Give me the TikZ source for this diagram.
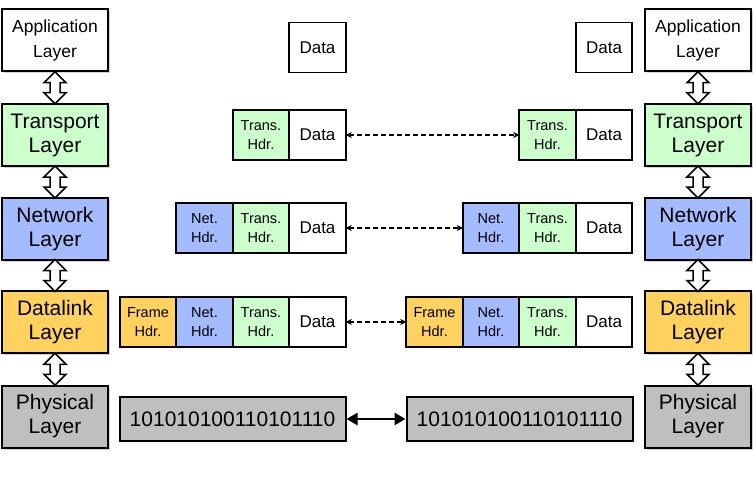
\documentclass[tikz,border=0pt]{standalone}
\usepackage{fontspec}
\setmainfont{Liberation Sans}
\usetikzlibrary{arrows.meta,positioning,calc,shadows}
\definecolor{transgreen}{HTML}{CCFFCC}
\definecolor{netblue}{HTML}{A4BCFF}
\definecolor{linkorange}{HTML}{FFD260}
\definecolor{physgray}{HTML}{BFBFBF}
% hollow up/down arrow between two stacked layers
\newcommand{\hollowlink}[2]{%
  \path (#1.south) -- coordinate[midway] (hl) (#2.north);
  \draw[hollow] ($(hl)+(0,-16)$) -- ++(11,11) -- ++(-6,0) -- ++(0,10) -- ++(6,0) -- ++(-11,11)
    -- ++(-11,-11) -- ++(6,0) -- ++(0,-10) -- ++(-6,0) -- cycle;}

\begin{document}
\begin{tikzpicture}[x=1pt, y=-1pt, node distance=0pt,
  layer/.style={draw, fill=white, line width=2pt, minimum width=106pt, minimum height=62pt, align=center,
    font=\fontsize{21}{24}\selectfont, drop shadow={shadow xshift=2pt, shadow yshift=-2pt, opacity=0.35}},
  cell/.style={draw, fill=white, line width=1.8pt, minimum width=56.5pt, minimum height=50pt, align=center,
    outer sep=0pt, font=\fontsize{14.5}{19}\selectfont},
  datacell/.style={cell, font=\fontsize{17}{19}\selectfont},
  bits/.style={draw, fill=physgray, line width=2pt, minimum width=226pt, minimum height=44pt,
    font=\fontsize{21}{24}\selectfont},
  hollow/.style={draw, fill=white, line width=1.5pt, line join=miter},
  peer/.style={{Stealth[length=6pt,width=6pt]}-{Stealth[length=6pt,width=6pt]}, dash pattern=on 5pt off 3pt, line width=1.3pt},
  wire/.style={{Triangle[length=11pt,width=12pt]}-{Triangle[length=11pt,width=12pt]}, line width=2.8pt}]
\useasboundingbox (0,0) rectangle (753,487);

% sender stack
\node[layer, font=\fontsize{17.5}{25}\selectfont] (lapp) at (55,40.5) {Application\\Layer};
\node[layer, fill=transgreen] (ltrans) at (55,135) {Transport\\Layer};
\node[layer, fill=netblue] (lnet) at (55,229) {Network\\Layer};
\node[layer, fill=linkorange] (llink) at (55,322) {Datalink\\Layer};
\node[layer, fill=physgray] (lphys) at (55,416.5) {Physical\\Layer};

% receiver stack
\node[layer, font=\fontsize{17.5}{25}\selectfont] (rapp) at (698,40.5) {Application\\Layer};
\node[layer, fill=transgreen] (rtrans) at (698,135) {Transport\\Layer};
\node[layer, fill=netblue] (rnet) at (698,229) {Network\\Layer};
\node[layer, fill=linkorange] (rlink) at (698,322) {Datalink\\Layer};
\node[layer, fill=physgray] (rphys) at (698,416.5) {Physical\\Layer};

\hollowlink{lapp}{ltrans}
\hollowlink{ltrans}{lnet}
\hollowlink{lnet}{llink}
\hollowlink{llink}{lphys}
\hollowlink{rapp}{rtrans}
\hollowlink{rtrans}{rnet}
\hollowlink{rnet}{rlink}
\hollowlink{rlink}{rphys}

% packets, sender side
\node[datacell] (ld1) at (317.5,47.5) {Data};
\node[datacell] (ld2) at (317.5,135) {Data};
\node[cell, fill=transgreen, left=of ld2] (lt2) {Trans.\\Hdr.};
\node[datacell] (ld3) at (317.5,228) {Data};
\node[cell, fill=transgreen, left=of ld3] (lt3) {Trans.\\Hdr.};
\node[cell, fill=netblue, left=of lt3] (ln3) {Net.\\Hdr.};
\node[datacell] (ld4) at (317.5,322) {Data};
\node[cell, fill=transgreen, left=of ld4] (lt4) {Trans.\\Hdr.};
\node[cell, fill=netblue, left=of lt4] (ln4) {Net.\\Hdr.};
\node[cell, fill=linkorange, left=of ln4] (lf4) {Frame\\Hdr.};
\node[bits] (lbits) at (232.5,419) {101010100110101110};

% packets, receiver side
\node[datacell] (rd1) at (604,47.5) {Data};
\node[datacell] (rd2) at (604,135) {Data};
\node[cell, fill=transgreen, left=of rd2] (rt2) {Trans.\\Hdr.};
\node[datacell] (rd3) at (604,228) {Data};
\node[cell, fill=transgreen, left=of rd3] (rt3) {Trans.\\Hdr.};
\node[cell, fill=netblue, left=of rt3] (rn3) {Net.\\Hdr.};
\node[datacell] (rd4) at (604,322) {Data};
\node[cell, fill=transgreen, left=of rd4] (rt4) {Trans.\\Hdr.};
\node[cell, fill=netblue, left=of rt4] (rn4) {Net.\\Hdr.};
\node[cell, fill=linkorange, left=of rn4] (rf4) {Frame\\Hdr.};
\node[bits] (rbits) at (519.5,419) {101010100110101110};

% peer links
\draw[peer] (ld2) -- (rt2);
\draw[peer] (ld3) -- (rn3);
\draw[peer] (ld4) -- (rf4);
\draw[wire] (lbits) -- (rbits);
\end{tikzpicture}
\end{document}
